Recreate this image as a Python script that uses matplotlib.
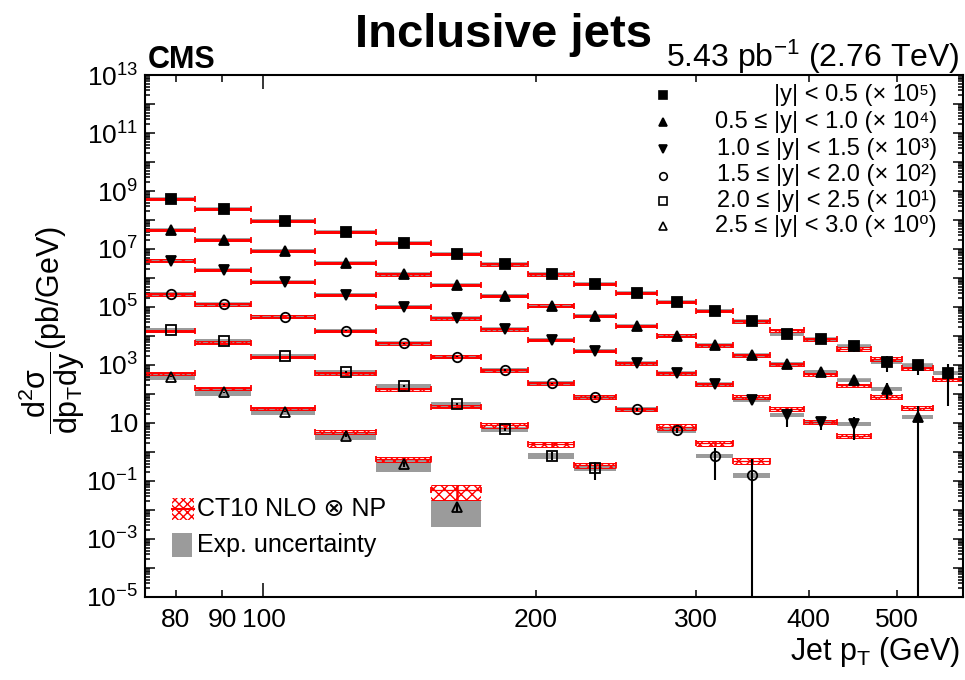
import numpy as np
import matplotlib
matplotlib.use("Agg")
import matplotlib.pyplot as plt
from matplotlib.ticker import FixedLocator, FixedFormatter, LogLocator, FuncFormatter, NullFormatter
from matplotlib.patches import Rectangle

plt.rcParams.update({
    "font.family": ["Liberation Sans", "DejaVu Sans"],
    "mathtext.fontset": "custom",
    "mathtext.rm": "Liberation Sans",
    "mathtext.it": "Liberation Sans:italic",
    "mathtext.bf": "Liberation Sans:bold",
    "mathtext.sf": "Liberation Sans",
    "hatch.color": "red",
    "hatch.linewidth": 1.0,
})

# ---------------- data ----------------
pt_edges = [74, 84, 97, 114, 133, 153, 174, 196, 220, 245, 272, 300, 330,
            362, 395, 430, 468, 507, 548, 592]

labels = ["|y| < 0.5 (× 10⁵)",
          "0.5 ≤ |y| < 1.0 (× 10⁴)",
          "1.0 ≤ |y| < 1.5 (× 10³)",
          "1.5 ≤ |y| < 2.0 (× 10²)",
          "2.0 ≤ |y| < 2.5 (× 10¹)",
          "2.5 ≤ |y| < 3.0 (× 10⁰)"]

# measured cross sections (already multiplied by the scale factor)
data_y0 = [5.30e8, 2.39e8, 9.46e7, 3.77e7, 1.61e7, 6.61e6, 2.96e6, 1.34e6, 6.35e5,
           3.11e5, 1.52e5, 7.40e4, 3.21e4, 1.15e4, 7.69e3, 4.52e3, 1.27e3, 9.77e2, 5.42e2]
data_y1 = [4.52e7, 2.09e7, 8.73e6, 3.21e6, 1.34e6, 5.71e5, 2.45e5, 1.11e5, 5.01e4,
           2.21e4, 1.02e4, 4.84e3, 2.17e3, 1.08e3, 5.74e2, 2.96e2, 1.52e2, 1.65e1]
data_y2 = [4.01e6, 1.85e6, 7.16e5, 2.65e5, 1.02e5, 4.07e4, 1.70e4, 7.28e3, 3.04e3,
           1.15e3, 5.18e2, 2.16e2, 60.7, 18.9, 11.1, 9.25]
data_y3 = [2.76e5, 1.22e5, 4.63e4, 1.52e4, 5.60e3, 1.93e3, 6.73e2, 2.34e2, 80.7,
           29.6, 5.60, 0.745, 0.161]
data_y4 = [1.61e4, 6.73e3, 2.04e3, 5.74e2, 1.89e2, 45.2, 6.07, 0.745, 0.288]
data_y5 = [3.95e2, 1.15e2, 24.5, 3.65, 0.385, 0.0127]

# CT10 NLO x NP prediction
theo_y0 = [5.30e8, 2.39e8, 9.46e7, 3.77e7, 1.61e7, 6.61e6, 2.96e6, 1.34e6, 6.35e5,
           3.11e5, 1.52e5, 7.40e4, 3.21e4, 1.61e4, 7.69e3, 3.56e3, 1.61e3, 7.69e2, 3.21e2]
theo_y1 = [4.52e7, 2.09e7, 8.73e6, 3.21e6, 1.34e6, 5.71e5, 2.45e5, 1.11e5, 5.01e4,
           2.21e4, 1.02e4, 4.84e3, 2.17e3, 1.08e3, 4.78e2, 2.00e2, 80.7, 32.9]
theo_y2 = [4.01e6, 1.85e6, 7.16e5, 2.65e5, 1.02e5, 4.07e4, 1.70e4, 7.28e3, 3.04e3,
           1.15e3, 5.18e2, 2.16e2, 80.7, 30.4, 10.8, 3.65]
theo_y3 = [2.76e5, 1.22e5, 4.63e4, 1.52e4, 5.60e3, 1.93e3, 6.73e2, 2.34e2, 80.7,
           29.6, 7.45, 2.01, 0.509]
theo_y4 = [1.49e4, 5.92e3, 1.93e3, 5.18e2, 1.45e2, 36.5, 8.53, 1.85, 0.356]
theo_y5 = [5.18e2, 1.57e2, 32.1, 5.01, 0.560, 0.0486]

# relative statistical uncertainty (symmetric)
stat0 = [0.01, 0.01, 0.01, 0.01, 0.01, 0.01, 0.01, 0.01, 0.02, 0.02, 0.02, 0.03, 0.04,
         0.06, 0.1, 0.38, 0.55, 0.55, 0.93]
stat1 = [0.01, 0.01, 0.01, 0.01, 0.01, 0.01, 0.01, 0.02, 0.02, 0.03, 0.03, 0.04, 0.05,
         0.08, 0.1, 0.12, 0.55, 1.3]
stat2 = [0.01, 0.01, 0.01, 0.01, 0.01, 0.02, 0.02, 0.03, 0.04, 0.05, 0.07, 0.1, 0.15,
         0.62, 0.49, 0.72]
stat3 = [0.01, 0.01, 0.01, 0.02, 0.02, 0.03, 0.04, 0.05, 0.07, 0.1, 0.2, 0.85, 2.5]
stat4 = [0.02, 0.02, 0.03, 0.04, 0.05, 0.08, 0.15, 0.3, 0.62]
stat5 = [0.02, 0.03, 0.05, 0.1, 0.2, 0.35]

# relative experimental (systematic) uncertainty
exp0 = [0.10, 0.10, 0.10, 0.10, 0.10, 0.10, 0.10, 0.10, 0.10, 0.10, 0.10, 0.11, 0.11,
        0.12, 0.12, 0.12, 0.13, 0.13, 0.14]
exp1 = [0.11, 0.11, 0.11, 0.11, 0.11, 0.11, 0.11, 0.11, 0.12, 0.12, 0.12, 0.12, 0.13,
        0.13, 0.14, 0.14, 0.15, 0.15]
exp2 = [0.13, 0.13, 0.13, 0.13, 0.13, 0.13, 0.13, 0.14, 0.14, 0.14, 0.15, 0.15, 0.16,
        0.16, 0.17, 0.17]
exp3 = [0.15, 0.15, 0.15, 0.15, 0.15, 0.15, 0.16, 0.16, 0.16, 0.17, 0.17, 0.18, 0.18]
exp4 = [0.18, 0.18, 0.18, 0.19, 0.2, 0.2, 0.2, 0.2, 0.22]
exp5 = [0.25, 0.25, 0.22, 0.28, 0.45, 0.8]

# relative theory uncertainty
thu0 = [0.08, 0.08, 0.08, 0.08, 0.08, 0.09, 0.09, 0.09, 0.1, 0.1, 0.1, 0.1, 0.11,
        0.12, 0.12, 0.13, 0.15, 0.15, 0.15]
thu1 = [0.08, 0.08, 0.08, 0.08, 0.09, 0.09, 0.09, 0.1, 0.1, 0.1, 0.11, 0.11, 0.12,
        0.12, 0.13, 0.14, 0.16, 0.16]
thu2 = [0.09, 0.09, 0.09, 0.09, 0.1, 0.1, 0.1, 0.11, 0.11, 0.12, 0.13, 0.14, 0.17,
        0.17, 0.17, 0.17]
thu3 = [0.1, 0.1, 0.1, 0.1, 0.11, 0.11, 0.12, 0.13, 0.14, 0.15, 0.2, 0.2, 0.23]
thu4 = [0.1, 0.1, 0.1, 0.11, 0.12, 0.13, 0.2, 0.22, 0.2]
thu5 = [0.1, 0.1, 0.12, 0.16, 0.2, 0.53]

series = [
    (data_y0, theo_y0, stat0, exp0, thu0, "s", "k"),
    (data_y1, theo_y1, stat1, exp1, thu1, "^", "k"),
    (data_y2, theo_y2, stat2, exp2, thu2, "v", "k"),
    (data_y3, theo_y3, stat3, exp3, thu3, "o", "none"),
    (data_y4, theo_y4, stat4, exp4, thu4, "s", "none"),
    (data_y5, theo_y5, stat5, exp5, thu5, "^", "none"),
]
msizes = {"s": 6.8, "^": 7.6, "v": 7.6, "o": 6.8}

GREY = "#9b9b9b"
YMIN, YMAX = 1e-5, 1e13

fig = plt.figure(figsize=(9.65, 6.8), dpi=100)
ax = fig.add_axes([145 / 965, 83 / 680, 818 / 965, 522 / 680])
ax.set_xscale("log")
ax.set_yscale("log")

edges = np.array(pt_edges, dtype=float)
for (dy, ty, st, ex, tu, mk, fc) in series:
    dy = np.array(dy); ty = np.array(ty)
    st = np.array(st); ex = np.array(ex); tu = np.array(tu)
    n = len(dy)
    lo = edges[:n]; hi = edges[1:n + 1]; xc = 0.5 * (lo + hi)
    for j in range(n):
        xs = [lo[j], hi[j]]
        # experimental uncertainty
        ax.fill_between(xs, dy[j] * (1 - ex[j]), dy[j] * (1 + ex[j]),
                        color=GREY, lw=0, zorder=1)
        ax.hlines(dy[j], lo[j], hi[j], color=GREY, lw=2.6, zorder=1)
        # theory band
        tlo = ty[j] * (1 - tu[j]); thi = ty[j] * (1 + tu[j])
        ax.fill_between(xs, tlo, thi, facecolor="none", edgecolor="red",
                        hatch="xxx", lw=0, zorder=2)
        ax.hlines([tlo, thi], lo[j], hi[j], color="red", lw=0.7, zorder=2)
        ax.hlines(ty[j], lo[j], hi[j], color="red", lw=0.9, zorder=2)
        ax.plot(xs, [ty[j], ty[j]], ls="none", marker="|", ms=5, mew=1.3,
                color="red", zorder=2)
        ax.vlines(xc[j], tlo, thi, color="red", lw=1.8, zorder=2)
    lower = np.where(dy * (1 - st) > 0, dy * st, dy - 1e-7)
    ax.errorbar(xc, dy, yerr=[lower, dy * st], fmt=mk, ms=msizes[mk],
                mfc=fc, mec="k", mew=1.3, color="k", elinewidth=1.5,
                capsize=0, zorder=3)

ax.set_xlim(74, 592)
ax.set_ylim(YMIN, YMAX)

# ---- axes styling ----
for s in ax.spines.values():
    s.set_linewidth(1.5)

ax.xaxis.set_major_locator(FixedLocator([100]))
ax.xaxis.set_major_formatter(FixedFormatter(["100"]))
ax.xaxis.set_minor_locator(FixedLocator([80, 90, 200, 300, 400, 500]))
ax.xaxis.set_minor_formatter(FixedFormatter(["80", "90", "200", "300", "400", "500"]))

ax.yaxis.set_major_locator(LogLocator(base=10, numticks=40))
def yfmt(v, pos):
    e = int(round(np.log10(v)))
    if e % 2 == 0:
        return ""
    if e == 1:
        return "10"
    return r"10$^{%d}$" % e
ax.yaxis.set_major_formatter(FuncFormatter(yfmt))
ax.yaxis.set_minor_locator(LogLocator(base=10, subs=np.arange(2, 10), numticks=400))
ax.yaxis.set_minor_formatter(NullFormatter())

ax.tick_params(axis="both", which="both", direction="in", top=True, right=True,
               width=1.1, labelsize=19)
ax.tick_params(axis="x", which="major", length=10, pad=8)
ax.tick_params(axis="x", which="minor", length=5, pad=8)
ax.tick_params(axis="y", which="major", length=7, pad=5)
ax.tick_params(axis="y", which="minor", length=3.5)

# ---- texts ----
fig.text(504 / 965, 1 - 47 / 680, "Inclusive jets", ha="center", va="baseline",
         fontsize=34, fontweight="bold")
fig.text(148 / 965, 1 - 68 / 680, "CMS", ha="left", va="baseline",
         fontsize=22, fontweight="bold")
fig.text(960 / 965, 1 - 67 / 680, r"5.43 pb$^{-1}$ (2.76 TeV)", ha="right",
         va="baseline", fontsize=23)
fig.text(960 / 965, 1 - 660 / 680, r"Jet p$_{\mathrm{T}}$ (GeV)", ha="right",
         va="baseline", fontsize=22)
fig.text(52 / 965, 1 - 330 / 680,
         r"$\dfrac{\mathrm{d^{2}\sigma}}{\mathrm{dp_{T}dy}}$(pb/GeV)",
         rotation=90, ha="center", va="center", fontsize=22)

# ---- legend (top right) ----
leg_rows = [(597 - yy) / 522 for yy in (95, 122, 149, 175.5, 201, 226)]
for (dy, ty, st, ex, tu, mk, fc), lab, yr in zip(series, labels, leg_rows):
    ax.plot([0.633], [yr], marker=mk, ms=msizes[mk] * 0.8, mfc=fc, mec="k",
            mew=1.2, color="k", ls="none", transform=ax.transAxes, clip_on=False)
    ax.text(0.968, yr, lab, ha="right", va="center", fontsize=17,
            transform=ax.transAxes)

# ---- legend (bottom left) ----
ax.add_patch(Rectangle((0.033, 0.1475), 0.0265, 0.042, facecolor="none",
                       edgecolor="red", hatch="xxxx", lw=0, transform=ax.transAxes))
ax.plot([0.033, 0.0595], [0.1686, 0.1686], color="red", lw=1.5,
        transform=ax.transAxes)
ax.add_patch(Rectangle((0.033, 0.0766), 0.0245, 0.046, facecolor=GREY,
                       edgecolor="none", transform=ax.transAxes))
ax.text(0.0636, 0.1686, "CT10 NLO ⊗ NP", ha="left", va="center", fontsize=18,
        transform=ax.transAxes)
ax.text(0.0636, 0.0996, "Exp. uncertainty", ha="left", va="center", fontsize=18,
        transform=ax.transAxes)

fig.savefig("out.png", dpi=100)
